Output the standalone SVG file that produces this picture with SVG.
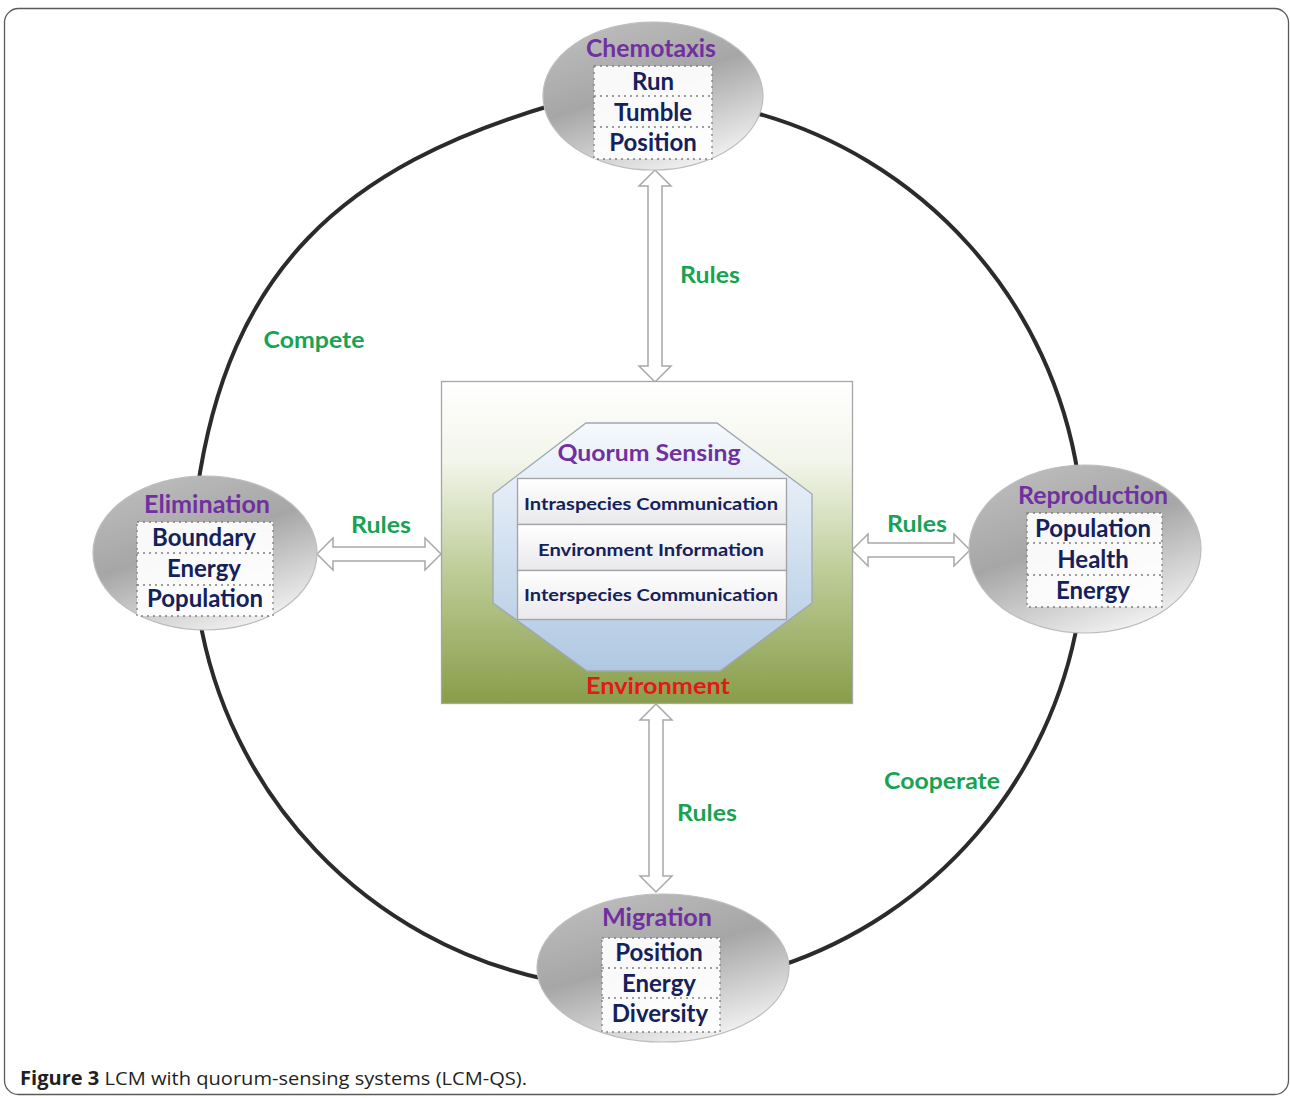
<svg xmlns="http://www.w3.org/2000/svg" width="1290" height="1098" viewBox="0 0 1290 1098">
<defs>
<linearGradient id="gEll" x1="0.2" y1="0" x2="0.7" y2="1">
<stop offset="0" stop-color="#bdbdbd"/>
<stop offset="0.45" stop-color="#a6a6a6"/>
<stop offset="1" stop-color="#f4f4f4"/>
</linearGradient>
<linearGradient id="gEnv" x1="0" y1="0" x2="0" y2="1">
<stop offset="0" stop-color="#ffffff"/>
<stop offset="0.25" stop-color="#f2f5ea"/>
<stop offset="0.6" stop-color="#bccb95"/>
<stop offset="1" stop-color="#889d4a"/>
</linearGradient>
<linearGradient id="gOct" x1="0" y1="0" x2="0" y2="1">
<stop offset="0" stop-color="#f6f9fd"/>
<stop offset="1" stop-color="#afc8e2"/>
</linearGradient>
<linearGradient id="gRow" x1="0" y1="0" x2="0" y2="1">
<stop offset="0" stop-color="#ffffff"/>
<stop offset="1" stop-color="#e9e9ec"/>
</linearGradient>
<style>
.frame{fill:#ffffff;stroke:#5a5a5a;stroke-width:1.3}
.arc{fill:none;stroke:#2b2b2b;stroke-width:4}
.arrow{fill:#ffffff;stroke:#a8a8a8;stroke-width:1.5;stroke-linejoin:miter}
.ell{fill:url(#gEll);stroke:#bdbdbd;stroke-width:1.2}
.box{fill:#ffffff;fill-opacity:0.93;stroke:#7f7f7f;stroke-width:1.3;stroke-dasharray:2 4}
.div{stroke:#7f7f7f;stroke-width:1.3;stroke-dasharray:2 4}
.t{font-family:Lato,"Open Sans","Liberation Sans",sans-serif;font-weight:bold;text-anchor:middle}
.ttl{fill:#7030a0;font-size:24px}
.itm{fill:#14215a;font-size:24px}
.grn{fill:#17a352;font-size:22px}
.row{fill:#14215a;font-size:17px}
.env{fill:#e31818;font-size:23px}
.cap{font-family:"Open Sans","Liberation Sans",sans-serif;font-size:19px;fill:#231f20}
</style>
</defs>
<rect class="frame" x="4.5" y="8.5" width="1284" height="1086" rx="14"/>

<g id="connectors">
<path class="arc" d="M 197 492 C 228 270 343 166 556 104"/>
<path class="arc" d="M 752 112 A 446 446 0 0 1 1078 475"/>
<path class="arc" d="M 1078 620 A 446 446 0 0 1 780 966"/>
<path class="arc" d="M 545 979 A 446 446 0 0 1 199 615"/>
<polygon class="arrow" points="655,170 671,186 662,186 662,366 671,366 655,382 639,366 648,366 648,186 639,186"/>
<polygon class="arrow" points="656,704 672,720 663,720 663,876 672,876 656,892 640,876 649,876 649,720 640,720"/>
<polygon class="arrow" points="317,554 333,538 333,547 425,547 425,538 441,554 425,570 425,561 333,561 333,570"/>
<polygon class="arrow" points="852,550 868,534 868,543 954,543 954,534 970,550 954,566 954,557 868,557 868,566"/>
<text class="t grn" x="710" y="283" textLength="60" lengthAdjust="spacingAndGlyphs">Rules</text>
<text class="t grn" x="381" y="533" textLength="60" lengthAdjust="spacingAndGlyphs">Rules</text>
<text class="t grn" x="917" y="532" textLength="60" lengthAdjust="spacingAndGlyphs">Rules</text>
<text class="t grn" x="707" y="821" textLength="60" lengthAdjust="spacingAndGlyphs">Rules</text>
<text class="t grn" x="314" y="348" textLength="101" lengthAdjust="spacingAndGlyphs">Compete</text>
<text class="t grn" x="942" y="789" textLength="116" lengthAdjust="spacingAndGlyphs">Cooperate</text>
</g>

<g id="environment">
<rect x="441.5" y="381.5" width="411" height="322" fill="url(#gEnv)" stroke="#a6a6a6" stroke-width="1.3"/>
<text class="t env" x="658" y="694" textLength="144" lengthAdjust="spacingAndGlyphs">Environment</text>
</g>

<g id="quorum-sensing">
<polygon points="586,423 717,423 812,494 812,603 720,671 587,671 493,603 493,494" fill="url(#gOct)" stroke="#9fa7b0" stroke-width="1.3"/>
<text class="t ttl" x="649" y="461" style="font-size:22px" textLength="183" lengthAdjust="spacingAndGlyphs">Quorum Sensing</text>
<g stroke="#a3a3a3" stroke-width="1.3" fill="url(#gRow)">
<rect x="517.5" y="478.5" width="269" height="46"/>
<rect x="517.5" y="524.5" width="269" height="46"/>
<rect x="517.5" y="570.5" width="269" height="49"/>
</g>
<text class="t row" x="651" y="510" textLength="254" lengthAdjust="spacingAndGlyphs">Intraspecies Communication</text>
<text class="t row" x="651" y="556" textLength="226" lengthAdjust="spacingAndGlyphs">Environment Information</text>
<text class="t row" x="651" y="601" textLength="254" lengthAdjust="spacingAndGlyphs">Interspecies Communication</text>
</g>

<g id="chemotaxis">
<ellipse class="ell" cx="653" cy="96" rx="110" ry="74"/>
<rect class="box" x="594" y="66" width="118" height="93"/>
<line class="div" x1="594" y1="96" x2="712" y2="96"/>
<line class="div" x1="594" y1="127" x2="712" y2="127"/>
<text class="t ttl" x="651" y="57" textLength="130" lengthAdjust="spacingAndGlyphs">Chemotaxis</text>
<text class="t itm" x="653" y="90">Run</text>
<text class="t itm" x="653" y="121">Tumble</text>
<text class="t itm" x="653" y="151">Position</text>
</g>

<g id="elimination">
<ellipse class="ell" cx="205" cy="553" rx="112" ry="77"/>
<rect class="box" x="137" y="522" width="136" height="94"/>
<line class="div" x1="137" y1="553" x2="273" y2="553"/>
<line class="div" x1="137" y1="585" x2="273" y2="585"/>
<text class="t ttl" x="207" y="513" textLength="126" lengthAdjust="spacingAndGlyphs">Elimination</text>
<text class="t itm" x="204" y="546">Boundary</text>
<text class="t itm" x="204" y="577">Energy</text>
<text class="t itm" x="205" y="607">Population</text>
</g>

<g id="reproduction">
<ellipse class="ell" cx="1085" cy="549" rx="116" ry="84"/>
<rect class="box" x="1027" y="513" width="135" height="94"/>
<line class="div" x1="1027" y1="543" x2="1162" y2="543"/>
<line class="div" x1="1027" y1="575" x2="1162" y2="575"/>
<text class="t ttl" x="1093" y="504" textLength="150" lengthAdjust="spacingAndGlyphs">Reproduction</text>
<text class="t itm" x="1093" y="537">Population</text>
<text class="t itm" x="1093" y="568">Health</text>
<text class="t itm" x="1093" y="599">Energy</text>
</g>

<g id="migration">
<ellipse class="ell" cx="663" cy="968" rx="126" ry="74"/>
<rect class="box" x="602" y="938" width="118" height="94"/>
<line class="div" x1="602" y1="968" x2="720" y2="968"/>
<line class="div" x1="602" y1="998" x2="720" y2="998"/>
<text class="t ttl" x="657" y="926" textLength="110" lengthAdjust="spacingAndGlyphs">Migration</text>
<text class="t itm" x="659" y="961">Position</text>
<text class="t itm" x="659" y="992">Energy</text>
<text class="t itm" x="660" y="1022">Diversity</text>
</g>

<text class="cap" x="20" y="1085" textLength="507" lengthAdjust="spacingAndGlyphs"><tspan font-weight="bold">Figure 3</tspan> LCM with quorum-sensing systems (LCM-QS).</text>
</svg>
